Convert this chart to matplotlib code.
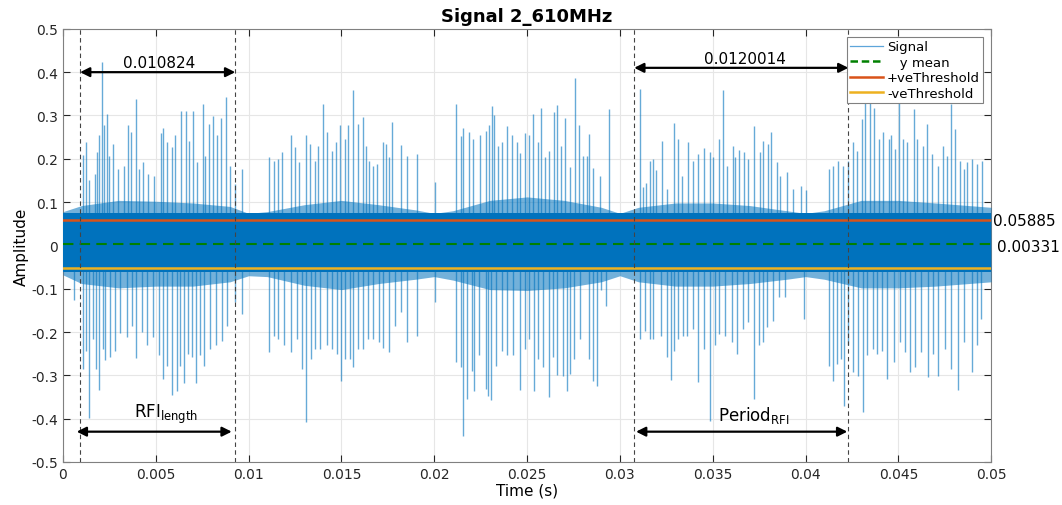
import matplotlib
matplotlib.use("Agg")
import matplotlib.pyplot as plt
import numpy as np
from matplotlib.lines import Line2D

# --- data -----------------------------------------------------------------
# positive RFI spikes (time s, amplitude)
up_t = [0.00106, 0.00124, 0.00140, 0.00172, 0.00182, 0.00196, 0.00209, 0.00221, 0.00235, 0.00249,
        0.00271, 0.00298, 0.00330, 0.00352, 0.00366, 0.00393, 0.00411, 0.00433, 0.00460, 0.00490,
        0.00528, 0.00540, 0.00562, 0.00586, 0.00603, 0.00634, 0.00661, 0.00681, 0.00702, 0.00724,
        0.00753, 0.00767, 0.00787, 0.00807, 0.00828, 0.00851, 0.00877, 0.00900, 0.00925, 0.00963,
        0.01112, 0.01137, 0.01160, 0.01178, 0.01227, 0.01250, 0.01273, 0.01309, 0.01331, 0.01358,
        0.01376, 0.01399, 0.01421, 0.01448, 0.01471, 0.01492, 0.01519, 0.01534, 0.01564, 0.01588,
        0.01615, 0.01633, 0.01650, 0.01669, 0.01693, 0.01723, 0.01740, 0.01758, 0.01771, 0.01820,
        0.01852, 0.01906, 0.02004,
        0.02116, 0.02143, 0.02154, 0.02189, 0.02211, 0.02247, 0.02279, 0.02297, 0.02310, 0.02322,
        0.02342, 0.02364, 0.02394, 0.02418, 0.02445, 0.02462, 0.02491, 0.02512, 0.02534, 0.02558,
        0.02577, 0.02597, 0.02620, 0.02647, 0.02660, 0.02682, 0.02703, 0.02732, 0.02759, 0.02782,
        0.02803, 0.02822, 0.02836, 0.02854, 0.02893, 0.02943,
        0.03109, 0.03123, 0.03141, 0.03163, 0.03177, 0.03193, 0.03226, 0.03253, 0.03292, 0.03315,
        0.03334, 0.03369, 0.03396, 0.03423, 0.03454, 0.03486, 0.03504, 0.03536, 0.03554, 0.03576,
        0.03608, 0.03621, 0.03644, 0.03669, 0.03692, 0.03723, 0.03755, 0.03770, 0.03797, 0.03813,
        0.03845, 0.03863, 0.03899, 0.03935, 0.03975, 0.04003,
        0.04129, 0.04147, 0.04174, 0.04204, 0.04231, 0.04255, 0.04276, 0.04303, 0.04321, 0.04348,
        0.04371, 0.04398, 0.04420, 0.04447, 0.04460, 0.04483, 0.04506, 0.04524, 0.04546, 0.04587,
        0.04603, 0.04635, 0.04657, 0.04681, 0.04716, 0.04743, 0.04761, 0.04783, 0.04806, 0.04833,
        0.04851, 0.04869, 0.04896, 0.04923, 0.04950]
up_v = [0.209, 0.238, 0.150, 0.165, 0.215, 0.254, 0.423, 0.277, 0.304, 0.207,
        0.234, 0.177, 0.184, 0.277, 0.261, 0.337, 0.177, 0.192, 0.165, 0.161,
        0.260, 0.270, 0.238, 0.227, 0.254, 0.311, 0.311, 0.242, 0.311, 0.192,
        0.327, 0.207, 0.281, 0.298, 0.254, 0.294, 0.342, 0.184, 0.142, 0.177,
        0.204, 0.196, 0.200, 0.215, 0.254, 0.227, 0.192, 0.254, 0.234, 0.196,
        0.230, 0.327, 0.261, 0.219, 0.238, 0.277, 0.246, 0.277, 0.358, 0.281,
        0.296, 0.230, 0.196, 0.184, 0.188, 0.238, 0.234, 0.204, 0.285, 0.232,
        0.207, 0.211, 0.146,
        0.327, 0.252, 0.270, 0.261, 0.246, 0.254, 0.265, 0.277, 0.321, 0.301,
        0.230, 0.238, 0.275, 0.254, 0.238, 0.214, 0.260, 0.254, 0.304, 0.238,
        0.317, 0.204, 0.219, 0.309, 0.325, 0.230, 0.294, 0.180, 0.386, 0.277,
        0.207, 0.207, 0.258, 0.178, 0.161, 0.314,
        0.361, 0.134, 0.144, 0.194, 0.200, 0.173, 0.240, 0.130, 0.283, 0.246,
        0.161, 0.238, 0.196, 0.211, 0.224, 0.215, 0.204, 0.246, 0.358, 0.184,
        0.229, 0.204, 0.221, 0.215, 0.200, 0.275, 0.215, 0.240, 0.234, 0.261,
        0.192, 0.161, 0.169, 0.130, 0.138, 0.127,
        0.177, 0.184, 0.196, 0.184, 0.194, 0.238, 0.219, 0.292, 0.346, 0.346,
        0.317, 0.246, 0.261, 0.246, 0.254, 0.223, 0.346, 0.246, 0.238, 0.315,
        0.246, 0.230, 0.281, 0.211, 0.184, 0.230, 0.207, 0.327, 0.269, 0.196,
        0.177, 0.192, 0.200, 0.188, 0.196]

# negative RFI spikes (time s, amplitude)
dn_t = [0.00059, 0.00106, 0.00124, 0.00142, 0.00160, 0.00178, 0.00196, 0.00214, 0.00226, 0.00253,
        0.00280, 0.00307, 0.00343, 0.00370, 0.00393, 0.00424, 0.00454, 0.00483, 0.00519, 0.00540,
        0.00559, 0.00586, 0.00613, 0.00630, 0.00652, 0.00675, 0.00693, 0.00715, 0.00738, 0.00760,
        0.00792, 0.00824, 0.00855, 0.00882, 0.00927, 0.00963,
        0.01112, 0.01137, 0.01160, 0.01191, 0.01227, 0.01259, 0.01286, 0.01309, 0.01335, 0.01358,
        0.01385, 0.01421, 0.01448, 0.01475, 0.01496, 0.01519, 0.01546, 0.01564, 0.01591, 0.01618,
        0.01645, 0.01669, 0.01704, 0.01726, 0.01758, 0.01789, 0.01820, 0.01852, 0.01909, 0.02004,
        0.02116, 0.02143, 0.02154, 0.02175, 0.02202, 0.02214, 0.02243, 0.02278, 0.02292, 0.02304,
        0.02333, 0.02364, 0.02394, 0.02423, 0.02462, 0.02489, 0.02512, 0.02538, 0.02561, 0.02585,
        0.02617, 0.02639, 0.02660, 0.02692, 0.02717, 0.02732, 0.02753, 0.02786, 0.02836, 0.02854,
        0.02876, 0.02897, 0.02926,
        0.03109, 0.03136, 0.03163, 0.03181, 0.03220, 0.03253, 0.03274, 0.03292, 0.03315, 0.03342,
        0.03364, 0.03396, 0.03423, 0.03454, 0.03486, 0.03513, 0.03536, 0.03567, 0.03603, 0.03633,
        0.03665, 0.03692, 0.03723, 0.03752, 0.03773, 0.03795, 0.03827, 0.03859, 0.03890, 0.03993,
        0.04129, 0.04147, 0.04169, 0.04190, 0.04208, 0.04231, 0.04255, 0.04285, 0.04309, 0.04330,
        0.04363, 0.04384, 0.04411, 0.04441, 0.04474, 0.04510, 0.04537, 0.04564, 0.04591, 0.04621,
        0.04659, 0.04689, 0.04716, 0.04752, 0.04783, 0.04824, 0.04851, 0.04896, 0.04923, 0.04945]
dn_v = [-0.127, -0.285, -0.243, -0.399, -0.216, -0.285, -0.333, -0.239, -0.264, -0.258,
        -0.243, -0.202, -0.212, -0.187, -0.260, -0.200, -0.231, -0.212, -0.254, -0.308,
        -0.278, -0.345, -0.335, -0.278, -0.318, -0.251, -0.258, -0.318, -0.254, -0.278,
        -0.239, -0.231, -0.220, -0.185, -0.131, -0.158,
        -0.247, -0.208, -0.216, -0.231, -0.245, -0.216, -0.285, -0.408, -0.262, -0.239,
        -0.239, -0.231, -0.239, -0.251, -0.312, -0.262, -0.262, -0.281, -0.239, -0.239,
        -0.216, -0.216, -0.222, -0.237, -0.245, -0.187, -0.154, -0.222, -0.208, -0.131,
        -0.270, -0.281, -0.439, -0.355, -0.289, -0.335, -0.254, -0.331, -0.347, -0.358,
        -0.278, -0.243, -0.254, -0.254, -0.333, -0.239, -0.216, -0.335, -0.262, -0.281,
        -0.351, -0.258, -0.299, -0.301, -0.335, -0.297, -0.262, -0.216, -0.262, -0.312,
        -0.324, -0.104, -0.139,
        -0.216, -0.197, -0.216, -0.216, -0.208, -0.258, -0.310, -0.243, -0.216, -0.208,
        -0.208, -0.193, -0.316, -0.239, -0.405, -0.231, -0.204, -0.208, -0.224, -0.251,
        -0.193, -0.177, -0.355, -0.231, -0.224, -0.189, -0.174, -0.120, -0.120, -0.170,
        -0.278, -0.312, -0.274, -0.262, -0.370, -0.231, -0.293, -0.301, -0.384, -0.254,
        -0.239, -0.251, -0.243, -0.308, -0.270, -0.224, -0.247, -0.293, -0.281, -0.247,
        -0.304, -0.251, -0.301, -0.239, -0.285, -0.333, -0.224, -0.293, -0.231, -0.170]

# noise floor envelope (time s, upper edge, lower edge)
env_t = [0.0, 0.001, 0.003, 0.005, 0.007, 0.009, 0.010, 0.011, 0.013, 0.015,
         0.017, 0.019, 0.020, 0.021, 0.023, 0.025, 0.027, 0.029, 0.030, 0.031,
         0.033, 0.035, 0.037, 0.039, 0.040, 0.041, 0.043, 0.045, 0.047, 0.050]
env_top = [0.078, 0.092, 0.104, 0.102, 0.098, 0.090, 0.074, 0.078, 0.094, 0.104,
           0.094, 0.082, 0.074, 0.080, 0.104, 0.112, 0.104, 0.088, 0.074, 0.088,
           0.098, 0.098, 0.092, 0.080, 0.074, 0.080, 0.104, 0.104, 0.098, 0.088]
env_bot = [-0.068, -0.088, -0.098, -0.094, -0.094, -0.084, -0.070, -0.072, -0.092, -0.102,
           -0.088, -0.078, -0.072, -0.080, -0.102, -0.104, -0.098, -0.084, -0.070, -0.084,
           -0.094, -0.094, -0.088, -0.078, -0.072, -0.078, -0.098, -0.098, -0.094, -0.084]
band_top = 0.074
band_bot = -0.062

y_mean = 0.00331
pos_thr = 0.05885
neg_thr = -0.05223

rfi_lines = [0.00092, 0.00928, 0.03077, 0.04231]
rfi_length_label = "0.010824"
period_label = "0.0120014"

BLUE = "#0072BD"

fig = plt.figure(figsize=(10.62, 5.06), dpi=100)
ax = fig.add_axes([0.0593, 0.085, 0.874, 0.856])

ax.vlines(up_t, 0, up_v, color=BLUE, linewidth=1.0, alpha=0.6, zorder=2)
ax.vlines(dn_t, 0, dn_v, color=BLUE, linewidth=1.0, alpha=0.6, zorder=2)
ax.fill_between(env_t, env_bot, env_top, color=BLUE, alpha=0.55, linewidth=0, zorder=3)
ax.fill_between([0, 0.05], band_bot, band_top, color=BLUE, linewidth=0, zorder=3)

ax.axhline(y_mean, color="#008000", linewidth=1.5, dashes=(5, 3), zorder=5)
ax.axhline(pos_thr, color="#D95319", linewidth=1.8, zorder=5)
ax.axhline(neg_thr, color="#EDB120", linewidth=1.8, zorder=5)

for xv in rfi_lines:
    ax.axvline(xv, color="#444444", linewidth=0.8, dashes=(4, 3), zorder=6)

arrow = dict(arrowstyle="<|-|>", color="black", lw=1.6, mutation_scale=14, shrinkA=0, shrinkB=0)
ax.annotate("", xy=(rfi_lines[0], 0.40), xytext=(rfi_lines[1], 0.40), arrowprops=arrow, zorder=7)
ax.annotate("", xy=(rfi_lines[2], 0.41), xytext=(rfi_lines[3], 0.41), arrowprops=arrow, zorder=7)
ax.annotate("", xy=(0.00074, -0.43), xytext=(0.00909, -0.43), arrowprops=arrow, zorder=7)
ax.annotate("", xy=(0.03087, -0.43), xytext=(0.04225, -0.43), arrowprops=arrow, zorder=7)

ax.text(0.00520, 0.405, rfi_length_label, ha="center", va="bottom", fontsize=11, zorder=7)
ax.text(0.03675, 0.415, period_label, ha="center", va="bottom", fontsize=11, zorder=7)
ax.text(0.00555, -0.415, r"RFI$_{\mathregular{length}}$", ha="center", va="bottom", fontsize=12, zorder=7)
ax.text(0.03720, -0.415, r"Period$_{\mathregular{RFI}}$", ha="center", va="bottom", fontsize=12, zorder=7)

ax.text(1.002, pos_thr - 0.002, f"{pos_thr:.5f}", transform=ax.get_yaxis_transform(),
        ha="left", va="center", fontsize=11)
ax.text(1.006, y_mean - 0.006, f"{y_mean:.5f}", transform=ax.get_yaxis_transform(),
        ha="left", va="center", fontsize=11)

ax.set_xlim(0, 0.05)
ax.set_ylim(-0.5, 0.5)
xt = np.arange(0, 0.0501, 0.005)
ax.set_xticks(xt)
ax.set_xticklabels([f"{v:g}" for v in np.round(xt, 3) + 0.0])
yt = np.arange(-0.5, 0.501, 0.1)
ax.set_yticks(yt)
ax.set_yticklabels([f"{v:g}" for v in np.round(yt, 1) + 0.0])
ax.tick_params(direction="in", top=True, right=True, labelsize=10, colors="#262626", length=5)
ax.grid(True, color="#E6E6E6", linewidth=0.8)
ax.set_axisbelow(True)
for s in ax.spines.values():
    s.set_color("#808080")
ax.set_xlabel("Time (s)", fontsize=11, labelpad=1)
ax.set_ylabel("Amplitude", fontsize=11, labelpad=2)
ax.set_title("Signal 2_610MHz", fontsize=13, fontweight="bold", pad=6)

handles = [
    Line2D([], [], color="#5DA5DA", linewidth=0.9),
    Line2D([], [], color="#008000", linewidth=1.8, dashes=(3, 1.5)),
    Line2D([], [], color="#D95319", linewidth=1.8),
    Line2D([], [], color="#EDB120", linewidth=1.8),
]
leg = ax.legend(handles, ["Signal", "   y mean", "+veThreshold", "-veThreshold"],
                loc="upper right", bbox_to_anchor=(0.9914, 0.9815), fontsize=9.5,
                fancybox=False, framealpha=1, edgecolor="#808080", borderpad=0.25,
                labelspacing=0.2, handlelength=2.5, handletextpad=0.3, borderaxespad=0)
leg.get_frame().set_linewidth(0.8)
leg.set_zorder(10)

fig.savefig("out.png", dpi=100)
